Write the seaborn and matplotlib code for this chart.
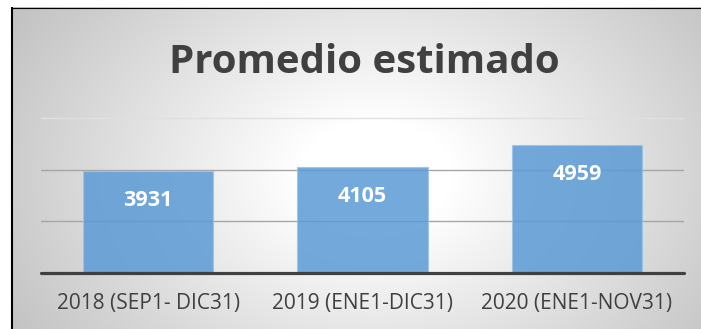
import numpy as np
import pandas as pd
import matplotlib
matplotlib.use("Agg")
import matplotlib.pyplot as plt
import seaborn as sns

# Chart data
categories = ["2018 (SEP1- DIC31)", "2019 (ENE1-DIC31)", "2020 (ENE1-NOV31)"]
values = [3931, 4105, 4959]
grid_levels = [2000, 4000]
y_max = 6000
title = "Promedio estimado"

df = pd.DataFrame({"periodo": categories, "promedio": values})

sns.set_theme(style="white")
plt.rcParams["font.family"] = ["Open Sans", "DejaVu Sans"]

W, H = 701, 329
fig = plt.figure(figsize=(W / 100, H / 100), dpi=100)

# Radial grey-to-white backdrop with a white margin outside the frame
bg = fig.add_axes([0, 0, 1, 1], zorder=0)
yy, xx = np.mgrid[0:H, 0:W].astype(float)
t = np.sqrt(((xx - 375) / 420.0) ** 2 + ((yy - 175) / 300.0) ** 2)
shade = 255 - 62 * np.clip((t - 0.18) / 0.85, 0, 1.2)
shade[(xx < 11) | (yy < 7)] = 255
img = np.dstack([shade] * 3) / 255.0
bg.imshow(img, extent=[0, W, H, 0], aspect="auto", interpolation="bilinear")
bg.set_xlim(0, W)
bg.set_ylim(H, 0)
bg.axis("off")
bg.plot([12, 12], [7, H], color="black", lw=1.5, solid_capstyle="butt")
bg.plot([11, W], [7.5, 7.5], color="black", lw=0.8, solid_capstyle="butt")

# Plot area
left, right = 41 / W, 684 / W
bottom, top = 1 - 272.5 / H, 1 - 118.3 / H
ax = fig.add_axes([left, bottom, right - left, top - bottom], zorder=1)
ax.patch.set_alpha(0)

sns.barplot(data=df, x="periodo", y="promedio", ax=ax, color="#5b9bd5",
            saturation=1, alpha=0.85, width=0.607, edgecolor="#9dc3e6",
            linewidth=0.8, zorder=2)

for lvl in grid_levels:
    ax.axhline(lvl, color="#a6a6a6", lw=1.0, zorder=1)
ax.axhline(y_max, color="#e0e0e0", lw=1.0, zorder=1, clip_on=False)
ax.axhline(0, color="#404040", lw=2.3, zorder=3, clip_on=False)

ax.set_xlim(-0.5, len(categories) - 0.5)
ax.set_ylim(0, y_max)
ax.set_yticks([])
ax.set_xlabel("")
ax.set_ylabel("")
for s in ax.spines.values():
    s.set_visible(False)
ax.tick_params(axis="x", length=0, pad=15, labelsize=15, labelcolor="#404040")

# Value labels inside the top of each bar
for i, v in enumerate(values):
    ax.annotate(f"{v}", xy=(i, v), xytext=(0, -35), textcoords="offset pixels",
                ha="center", va="baseline", color="white", fontsize=15.5,
                fontweight="bold", zorder=4)

fig.text(364 / W, 1 - 73.5 / H, title, ha="center", va="baseline",
         fontsize=29, fontweight="bold", color="#404040")

fig.savefig("out.png", dpi=100)
